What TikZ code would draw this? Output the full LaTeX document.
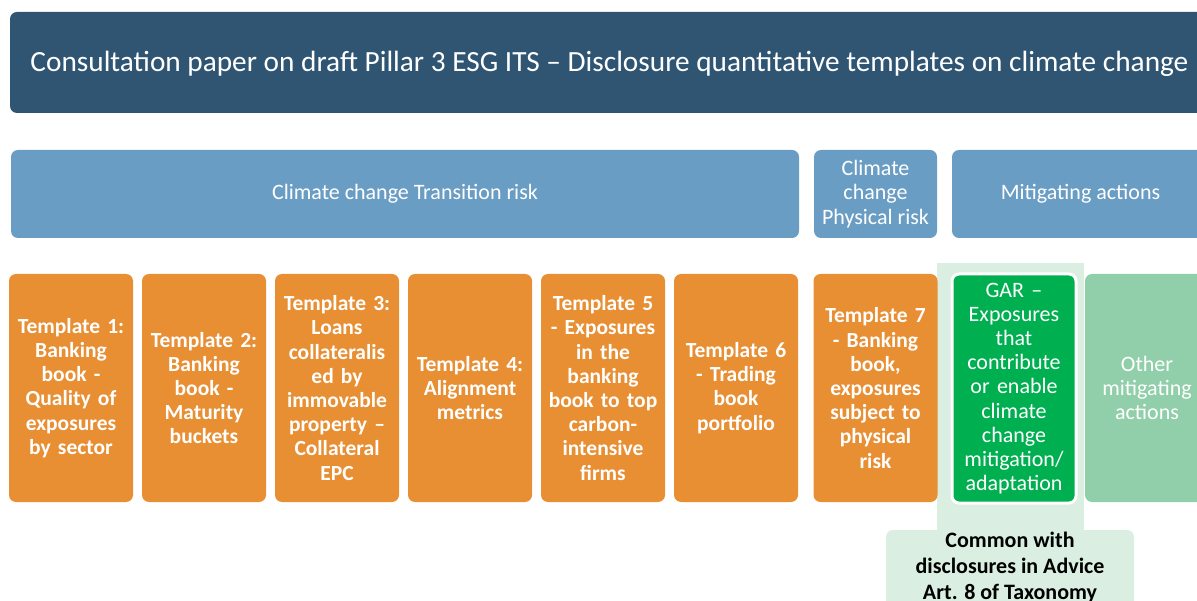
\documentclass[tikz,border=0pt]{standalone}
\usepackage{fontspec}
\setmainfont{Carlito}
\definecolor{hdrblue}{RGB}{47,85,115}
\definecolor{midblue}{RGB}{106,157,196}
\definecolor{orng}{RGB}{232,143,52}
\definecolor{gargreen}{RGB}{0,176,80}
\definecolor{othgreen}{RGB}{145,207,170}
\definecolor{palegreen}{RGB}{218,239,226}
\tikzset{
  base/.style={rounded corners=7pt, inner sep=0pt, align=center, text=white},
  hdr/.style={base, fill=hdrblue},
  cat/.style={base, fill=midblue, font=\fontsize{22}{24.5}\selectfont},
  obox/.style={base, fill=orng, minimum width=124pt, minimum height=228pt, text width=124pt, font=\bfseries\fontsize{21.5}{24.2}\selectfont},
  garbox/.style={base, fill=gargreen, draw=white, line width=3pt, minimum width=124pt, minimum height=229pt, text width=124pt, font=\fontsize{22}{24.2}\selectfont},
  othbox/.style={base, fill=othgreen, font=\fontsize{22}{24.2}\selectfont},
  combox/.style={base, fill=palegreen, text=black},
}
\begin{document}
\begin{tikzpicture}[x=1pt,y=-1pt]
\useasboundingbox (0,0) rectangle (1197,601);
\clip (0,0) rectangle (1197,601);
% header
\node[hdr, minimum width=1199pt, minimum height=101pt] (header) at (609.5,62.5) {};
\node[text=white, inner sep=0pt, font=\fontsize{29.3}{32}\selectfont] (title) at (609.5,63.5) {Consultation paper on draft Pillar 3 ESG ITS -- Disclosure quantitative templates on climate change};
% categories
\node[cat, minimum width=788pt, minimum height=88pt] (trans) at (405,194) {Climate change Transition risk};
\node[cat, minimum width=123pt, minimum height=88pt] (phys) at (875.5,194) {Climate\\change\\Physical risk};
\node[cat, minimum width=257pt, minimum height=88pt] (mitig) at (1080.5,194) {Mitigating actions};
% highlight
\fill[palegreen] (937,263) rectangle (1084,570);
% templates
\node[obox] (t1) at (71,388) {Template 1:\\Banking\\book -\\Quality of\\exposures\\by sector};
\node[obox] (t2) at (204,388) {Template 2:\\Banking\\book -\\Maturity\\buckets};
\node[obox] (t3) at (337,388) {Template 3:\\Loans\\collateralis\\ed by\\immovable\\property --\\Collateral\\EPC};
\node[obox] (t4) at (470,388) {Template 4:\\Alignment\\metrics};
\node[obox] (t5) at (603,388) {Template 5\\- Exposures\\in the\\banking\\book to top\\carbon-\\intensive\\firms};
\node[obox] (t6) at (736,388) {Template 6\\- Trading\\book\\portfolio};
\node[obox, minimum width=123pt] (t7) at (875.5,388) {Template 7\\- Banking\\book,\\exposures\\subject to\\physical\\risk};
\node[garbox] (gar) at (1014,388.5) {GAR --\\Exposures\\that\\contribute\\or enable\\climate\\change\\mitigation/\\adaptation};
\node[othbox, minimum width=124pt, minimum height=228pt] (other) at (1147,388) {Other\\mitigating\\actions};
% common box
\node[combox, minimum width=248pt, minimum height=100pt] (common) at (1010,580) {};
\node[inner sep=0pt, align=center, font=\bfseries\fontsize{22}{26.2}\selectfont, anchor=north] (commontext) at (1010,531.5) {Common with\\disclosures in Advice\\Art. 8 of Taxonomy};
\end{tikzpicture}
\end{document}
